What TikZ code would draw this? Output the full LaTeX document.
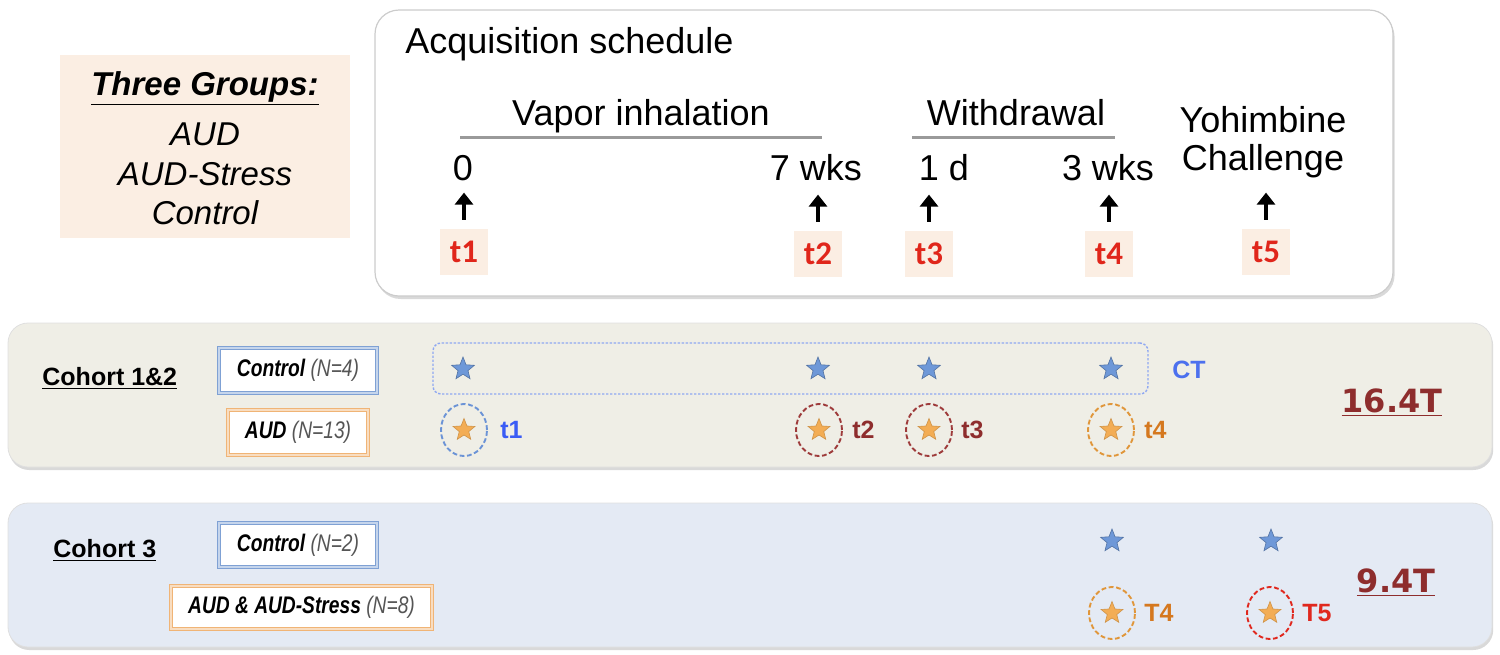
\documentclass[tikz,border=0pt]{standalone}
\usepackage{fontspec}
\setmainfont{Liberation Sans}
\newfontfamily\dvs{DejaVu Sans}
\newfontfamily\calib{Carlito}
\newfontfamily\narrowf[FakeStretch=0.8]{Liberation Sans}
\usetikzlibrary{shapes.geometric,arrows.meta,shadows}
\definecolor{peach}{HTML}{FBEEE3}
\definecolor{tred}{HTML}{E0261B}
\definecolor{panelA}{HTML}{EFEEE6}
\definecolor{panelB}{HTML}{E4EAF4}
\definecolor{boxblue}{HTML}{7FA1D4}
\definecolor{boxorange}{HTML}{F0B476}
\definecolor{starblue}{HTML}{6E98D8}
\definecolor{starorange}{HTML}{F3AD55}
\definecolor{darkred}{HTML}{8E2D2D}
\definecolor{ringred}{HTML}{9E3B3B}
\definecolor{ringorange}{HTML}{E0963A}
\definecolor{ringblue}{HTML}{6B93D6}
\definecolor{brightblue}{HTML}{3A5CF5}
\definecolor{ctblue}{HTML}{4C70EE}
\definecolor{torange}{HTML}{D5781F}
\definecolor{tfive}{HTML}{E0281E}
\definecolor{dashblue}{HTML}{8FA8F2}
\definecolor{rulegray}{HTML}{9A9A9A}
\definecolor{ngray}{HTML}{555555}
\begin{document}
\begin{tikzpicture}[x=0.5pt,y=-0.5pt,
  panel/.style={rounded corners=10pt, draw=gray!25, line width=0.4pt,
    drop shadow={shadow xshift=0.6pt, shadow yshift=-1.5pt, opacity=0.3}},
  big/.style={font=\fontsize{18}{19}\selectfont, inner sep=0pt},
  grp/.style={font=\fontsize{16.5}{18}\selectfont\itshape, inner sep=0pt, anchor=base},
  tbox/.style={fill=peach, minimum width=24pt, minimum height=23pt, inner sep=0pt,
    text=tred, font=\calib\bfseries\fontsize{16.5}{17}\selectfont},
  arr/.style={-{Triangle[length=6pt,width=9pt]}, line width=2.4pt},
  spanrule/.style={rulegray, line width=1.5pt},
  cbox/.style={fill=white, line width=0.8pt, double distance=0.6pt, inner sep=0pt,
    font=\narrowf\fontsize{12}{13}\selectfont},
  bluebox/.style={cbox, draw=boxblue, double=boxblue!45!white},
  orangebox/.style={cbox, draw=boxorange, double=boxorange!45!white},
  bstar/.style={star, star points=5, star point ratio=2.3, minimum size=12pt, inner sep=0pt,
    fill=starblue, draw=starblue!75!black, line width=0.3pt},
  ostar/.style={star, star points=5, star point ratio=2.3, minimum size=11.5pt, inner sep=0pt,
    fill=starorange, draw=starorange!85!black, line width=0.3pt},
  ring/.style={ellipse, minimum width=23pt, minimum height=26pt, inner sep=0pt,
    dashed, dash pattern=on 2.4pt off 1.3pt, line width=0.95pt},
  rlab/.style={anchor=west, inner sep=0pt, font=\bfseries\fontsize{12.5}{13}\selectfont},
  tesla/.style={anchor=base, inner sep=0pt, text=darkred, font=\dvs\bfseries\fontsize{16}{17}\selectfont},
  cohort/.style={anchor=base west, inner sep=0pt, font=\bfseries\fontsize{12.5}{14}\selectfont}
]
\useasboundingbox (0,0) rectangle (1500,654);

% ---- Three groups
\node[fill=peach, minimum width=145pt, minimum height=91.5pt, inner sep=0pt] (groups) at (205,146.5) {};
\node[grp, font=\fontsize{16.5}{18}\selectfont\bfseries\itshape] (gtitle) at (205,95) {\underline{Three Groups:}};
\node[grp] (gaud) at (205,145) {AUD};
\node[grp] (gaudst) at (205,185) {AUD-Stress};
\node[grp] (gctl) at (205,224) {Control};

% ---- Acquisition schedule
\node[rounded corners=12pt, draw=gray!40, line width=0.6pt, fill=white,
  drop shadow={shadow xshift=0.8pt, shadow yshift=-1.5pt, opacity=0.3},
  minimum width=509pt, minimum height=143pt, inner sep=0pt] (acq) at (884,153) {};
\node[big, anchor=base west] (acqt) at (405,53) {Acquisition schedule};
\node[big, anchor=base] (vapor) at (641,125) {Vapor inhalation};
\node[big, anchor=base] (withd) at (1016,125) {Withdrawal};
\draw[spanrule] (460,137) -- (822,137);
\draw[spanrule] (912,137) -- (1115,137);
\node[big, anchor=base] (yoh) at (1263,132) {Yohimbine};
\node[big, anchor=base] (chal) at (1263,170) {Challenge};
\node[big, anchor=base] (l0) at (463,180) {0};
\node[big, anchor=base] (l7) at (816,180) {7 wks};
\node[big, anchor=base] (l1) at (944,180) {1 d};
\node[big, anchor=base] (l3) at (1108,180) {3 wks};

\node[tbox] (t1) at (464,252) {t1};
\node[tbox] (t2) at (818,254) {t2};
\node[tbox] (t3) at (929,254) {t3};
\node[tbox] (t4) at (1109,254) {t4};
\node[tbox] (t5) at (1266,252) {t5};
\foreach \t in {t1,t2,t3,t4,t5}{
  \draw[arr] ([yshift=4.5pt]\t.north) -- ([yshift=18pt]\t.north);
}

% ---- Cohort 1&2
\node[panel, fill=panelA, minimum width=742pt, minimum height=72pt, inner sep=0pt] (pa) at (750,395) {};
\node[cohort] (ca) at (42,385) {\underline{Cohort 1\&2}};
\node[bluebox, minimum width=79pt, minimum height=22.5pt] (ctla) at (298,370.5)
  {\bfseries\itshape Control {\mdseries\color{ngray}(N=4)}};
\node[orangebox, minimum width=70pt, minimum height=22.5pt] (auda) at (298,432.5)
  {\bfseries\itshape AUD {\mdseries\color{ngray}(N=13)}};
\node[rounded corners=4pt, draw=dashblue, dash pattern=on 1.2pt off 0.8pt, line width=0.7pt,
  minimum width=357.5pt, minimum height=25.5pt, inner sep=0pt] (ctgrp) at (790.5,368.5) {};
\node[bstar] (ba1) at (463,369) {};
\node[bstar] (ba2) at (818,369) {};
\node[bstar] (ba3) at (929,369) {};
\node[bstar] (ba4) at (1111,369) {};
\node[rlab, text=ctblue] (ct) at (1172,370) {CT};
\node[ring, draw=ringblue] (ra1) at (464,430) {};
\node[ring, draw=ringred] (ra2) at (819,430) {};
\node[ring, draw=ringred] (ra3) at (929,430) {};
\node[ring, draw=ringorange] (ra4) at (1111,430) {};
\node[ostar] (oa1) at (ra1) {};
\node[ostar] (oa2) at (ra2) {};
\node[ostar] (oa3) at (ra3) {};
\node[ostar] (oa4) at (ra4) {};
\node[rlab, text=brightblue] (la1) at (500,430) {t1};
\node[rlab, text=darkred] (la2) at (852,430) {t2};
\node[rlab, text=darkred] (la3) at (961,430) {t3};
\node[rlab, text=torange] (la4) at (1144,430) {t4};
\node[tesla] (fa) at (1392,412) {\underline{16.4T}};

% ---- Cohort 3
\node[panel, fill=panelB, minimum width=742pt, minimum height=72pt, inner sep=0pt] (pb) at (750,575) {};
\node[cohort] (cb) at (53,557) {\underline{Cohort 3}};
\node[bluebox, minimum width=79pt, minimum height=22pt] (ctlb) at (298,545)
  {\bfseries\itshape Control {\mdseries\color{ngray}(N=2)}};
\node[orangebox, minimum width=130.5pt, minimum height=21.5pt] (audb) at (301.5,607.5)
  {\bfseries\itshape AUD \& AUD-Stress {\mdseries\color{ngray}(N=8)}};
\node[bstar] (bb1) at (1112,541) {};
\node[bstar] (bb2) at (1271,541) {};
\node[ring, draw=ringorange] (rb1) at (1112,613) {};
\node[ring, draw=tfive] (rb2) at (1270,613) {};
\node[ostar] (ob1) at (rb1) {};
\node[ostar] (ob2) at (rb2) {};
\node[rlab, text=torange] (lb1) at (1144,613) {T4};
\node[rlab, text=tfive] (lb2) at (1302,613) {T5};
\node[tesla] (fb) at (1396,592) {\underline{9.4T}};
\end{tikzpicture}
\end{document}
